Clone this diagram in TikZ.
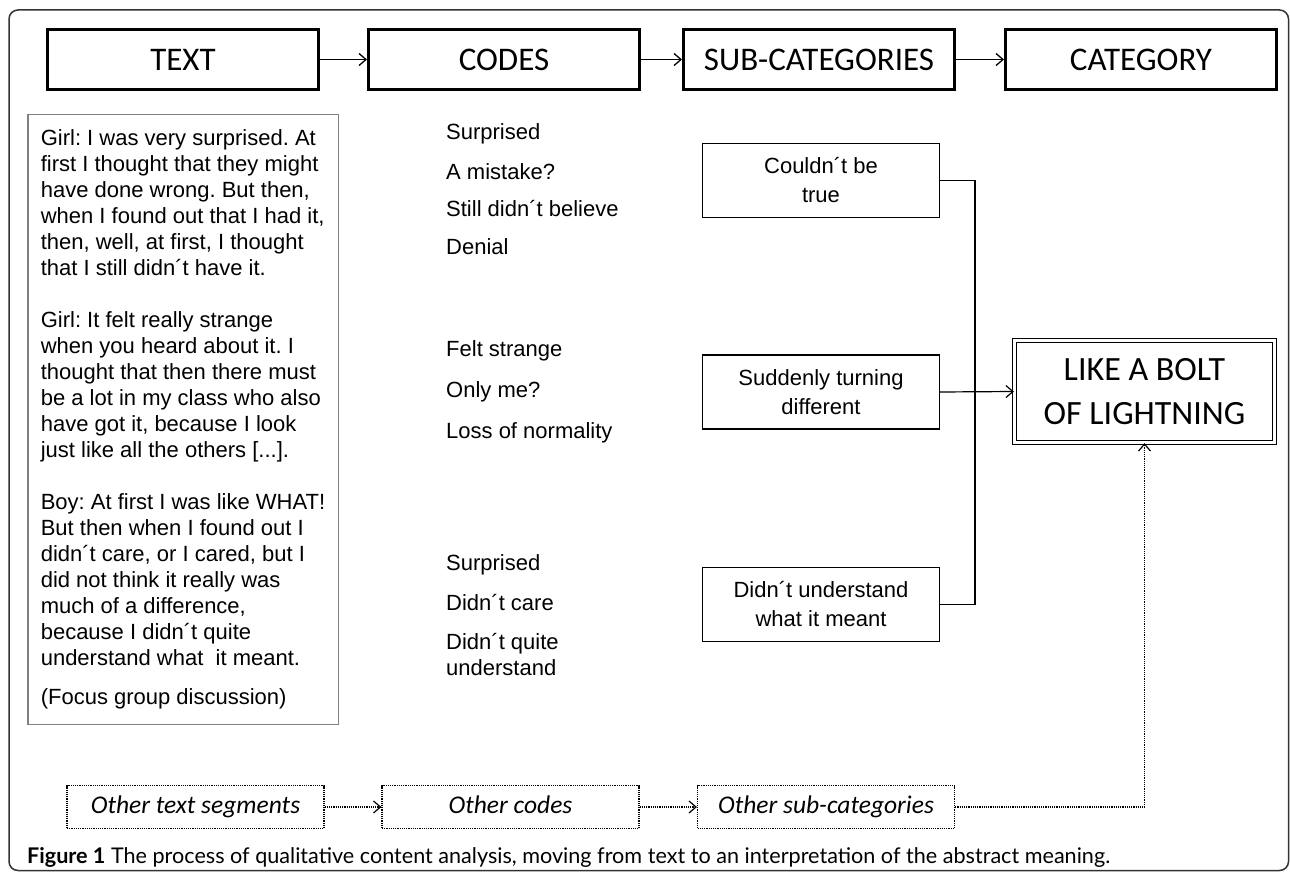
\documentclass[tikz,border=0pt]{standalone}
\usepackage{fontspec}
\setmainfont{Liberation Sans}
\newfontfamily\calibri{Carlito}
\newfontfamily\capfont{Lato}
\usepackage{tikz}
\usetikzlibrary{arrows.meta, positioning, shapes, calc}
\usepackage{xcolor}
\definecolor{framegray}{gray}{0.2}
\definecolor{quotegray}{gray}{0.5}
\frenchspacing

\tikzset{
  stage/.style={draw, line width=3pt, minimum width=271pt, minimum height=60pt,
    font=\calibri\fontsize{33}{38}\selectfont},
  stagearrow/.style={line width=1.3pt, -{Straight Barb[length=7pt,width=12pt]}},
  codeitem/.style={anchor=west, inner sep=0pt, align=left,
    font=\fontsize{22}{26}\selectfont},
  subbox/.style={draw, line width=1.2pt, minimum width=237pt, minimum height=74pt,
    align=center, font=\fontsize{22}{29}\selectfont},
  otherbox/.style={draw, densely dotted, line width=1.2pt, minimum width=257pt,
    minimum height=43pt, text height=18pt, text depth=5pt,
    font=\calibri\itshape\fontsize{25.5}{29}\selectfont},
  dotarrow/.style={densely dotted, line width=1.2pt,
    -{Straight Barb[length=7pt,width=12pt]}}
}

\begin{document}
\begin{tikzpicture}[x=1pt, y=-1pt]
  \useasboundingbox (0,0) rectangle (1290,872);
  % Outer frame
  \draw[framegray, line width=1.5pt, rounded corners=9pt] (9,10) rectangle (1288.5,870.5);

  % Stages
  \node[stage] (text) at (183,59.5) {TEXT};
  \node[stage] (codes) at (504,59.5) {CODES};
  \node[stage] (subcats) at (819,59.5) {SUB-CATEGORIES};
  \node[stage] (cat) at (1141,59.5) {CATEGORY};
  \draw[stagearrow] (text) -- (codes);
  \draw[stagearrow] (codes) -- (subcats);
  \draw[stagearrow] (subcats) -- (cat);

  % Quotes
  \node[draw=quotegray, line width=1.5pt, minimum width=310.5pt, minimum height=609.5pt,
    align=left, font=\fontsize{22}{26}\selectfont] (quotes) at (183,419.5) {%
    Girl: I was very surprised. At\\
    first I thought that they might\\
    have done wrong. But then,\\
    when I found out that I had it,\\
    then, well, at first, I thought\\
    that I still didn´t have it.\\[26pt]
    Girl: It felt really strange\\
    when you heard about it. I\\
    thought that then there must\\
    be a lot in my class who also\\
    have got it, because I look\\
    just like all the others [...].\\[26pt]
    Boy: At first I was like WHAT!\\
    But then when I found out I\\
    didn´t care, or I cared, but I\\
    did not think it really was\\
    much of a difference,\\
    because I didn´t quite\\
    understand what~ it meant.\\[13pt]
    (Focus group discussion)};

  % Codes
  \node[codeitem] (code1) at (446,134) {Surprised};
  \node[codeitem] (code2) at (446,172) {A mistake?};
  \node[codeitem] (code3) at (446,209) {Still didn´t believe};
  \node[codeitem] (code4) at (446,247) {Denial};
  \node[codeitem] (code5) at (446,351) {Felt strange};
  \node[codeitem] (code6) at (446,392) {Only me?};
  \node[codeitem] (code7) at (446,433) {Loss of normality};
  \node[codeitem] (code8) at (446,565) {Surprised};
  \node[codeitem] (code9) at (446,603) {Didn´t care};
  \node[codeitem] (code10) at (446,655) {Didn´t quite\\understand};

  % Sub-categories
  \node[subbox] (couldnt) at (821,180.5) {Couldn´t be\\true};
  \node[subbox] (sudden) at (821,392) {Suddenly turning\\different};
  \node[subbox] (didnt) at (821,604.5) {Didn´t understand\\what it meant};

  % Category
  \node[draw, double, double distance=2.5pt, line width=1.3pt, minimum width=260pt,
    minimum height=102pt, align=center, font=\calibri\fontsize{34}{44}\selectfont]
    (bolt) at (1144.5,391.5) {LIKE A BOLT\\OF LIGHTNING};

  \coordinate (joint) at (975,604.5);
  \draw[line width=1.2pt] (couldnt.east) -| (joint) -- (didnt.east);
  \draw[stagearrow, line width=1.2pt] (sudden.east) -- (bolt.west);

  % Other segments
  \node[otherbox] (othertext) at (195.5,807) {Other text segments};
  \node[otherbox] (othercodes) at (510.5,807) {Other codes};
  \node[otherbox] (othersubs) at (826,807) {Other sub-categories};
  \draw[dotarrow] (othertext) -- (othercodes);
  \draw[dotarrow] (othercodes) -- (othersubs);
  \draw[dotarrow] (othersubs.east) -| (bolt.south);

  % Caption
  \node[anchor=west, inner sep=0pt, font=\capfont\fontsize{21.6}{25}\selectfont] (caption)
    at (27,857) {\textbf{Figure 1} The process of qualitative content analysis, moving from text to an interpretation of the abstract meaning.};
\end{tikzpicture}
\end{document}
